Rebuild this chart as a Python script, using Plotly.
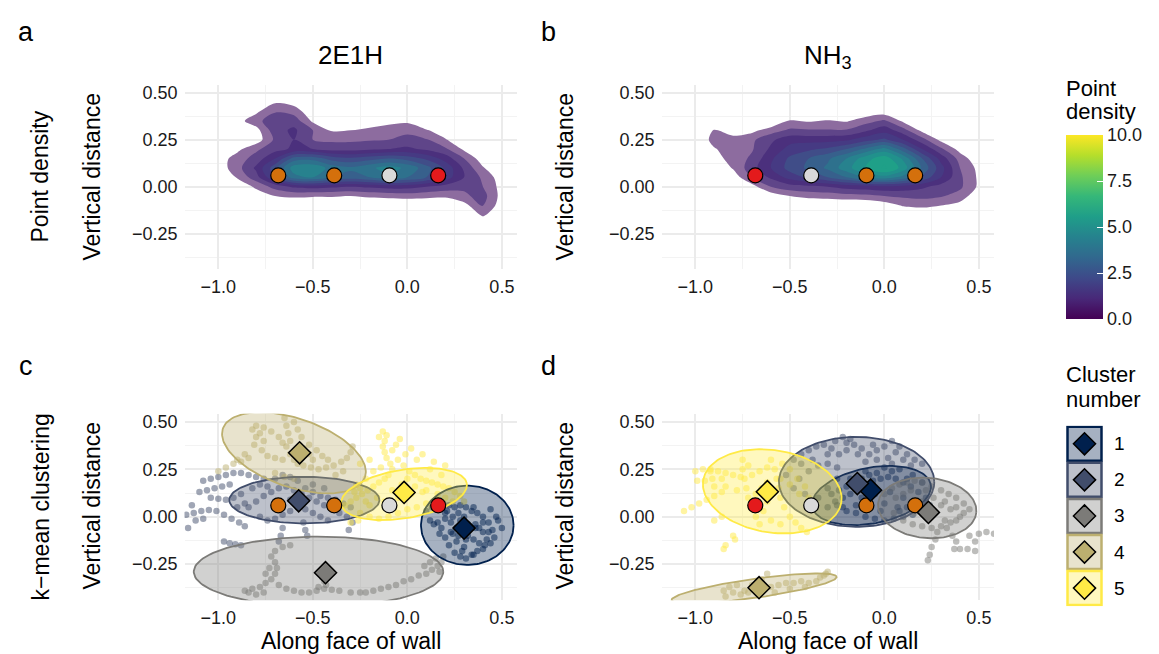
import numpy as np
import plotly.graph_objects as go

# ---------------- data ----------------
grid_x = [-1.0, -0.9, -0.8, -0.7, -0.6, -0.5, -0.4, -0.3, -0.2, -0.1, 0.0, 0.1, 0.2, 0.3, 0.4, 0.5]
grid_y = [0.45, 0.40, 0.35, 0.30, 0.25, 0.20, 0.15, 0.10, 0.05, 0.00, -0.05, -0.10, -0.15, -0.20, -0.25]

density_2e1h = [
    [0, 0, 0, 0.45, 0.3, 0, 0, 0, 0, 0, 0, 0, 0, 0, 0, 0],
    [0, 0, 0.4, 0.95, 0.8, 0.1, 0, 0, 0, 0, 0, 0, 0, 0, 0, 0],
    [0, 0.3, 0.8, 1.4, 1.3, 0.4, 0, 0, 0, 0.3, 0.4, 0, 0, 0, 0, 0],
    [0, 0, 0.3, 1.3, 1.6, 1.0, 0.45, 0.5, 0.7, 0.8, 0.85, 0.55, 0.2, 0, 0, 0],
    [0, 0, 0.2, 1.1, 1.5, 1.0, 0.9, 0.9, 0.95, 1.0, 1.2, 1.05, 0.55, 0.1, 0, 0],
    [0, 0.35, 0.9, 1.3, 1.6, 1.5, 1.3, 1.3, 1.4, 1.5, 1.6, 1.4, 1.1, 0.4, 0.05, 0],
    [0.2, 0.75, 1.2, 2.0, 3.2, 3.3, 2.8, 2.6, 2.8, 3.0, 2.8, 2.4, 1.8, 1.0, 0.2, 0],
    [0.2, 0.8, 1.6, 2.8, 4.3, 4.4, 3.8, 3.6, 3.9, 4.2, 3.9, 3.2, 2.4, 1.4, 0.55, 0],
    [0, 0.55, 1.3, 2.5, 3.8, 4.0, 3.5, 3.3, 3.5, 3.8, 3.5, 3.0, 2.3, 1.5, 0.9, 0.2],
    [0, 0.1, 0.6, 1.2, 1.6, 1.7, 1.6, 1.5, 1.6, 1.7, 1.7, 1.5, 1.3, 1.1, 1.0, 0.3],
    [0, 0, 0.2, 0.5, 0.6, 0.55, 0.55, 0.5, 0.6, 0.65, 0.7, 0.65, 0.6, 0.9, 1.2, 0.3],
    [0, 0, 0, 0, 0, 0, 0, 0, 0, 0, 0, 0, 0, 0.3, 1.05, 0.2],
    [0, 0, 0, 0, 0, 0, 0, 0, 0, 0, 0, 0, 0, 0, 0.6, 0],
    [0, 0, 0, 0, 0, 0, 0, 0, 0, 0, 0, 0, 0, 0, 0, 0],
    [0, 0, 0, 0, 0, 0, 0, 0, 0, 0, 0, 0, 0, 0, 0, 0],
]

density_nh3 = [
    [0, 0, 0, 0, 0, 0, 0, 0, 0, 0, 0, 0, 0, 0, 0, 0],
    [0, 0, 0, 0, 0, 0, 0, 0, 0, 0.1, 0.2, 0, 0, 0, 0, 0],
    [0, 0, 0, 0, 0, 0.55, 0.45, 0.55, 0.45, 0.8, 1.1, 0.4, 0, 0, 0, 0],
    [0, 0.55, 0.3, 0.35, 0.75, 1.1, 1.05, 1.05, 1.05, 1.4, 1.8, 1.2, 0.35, 0, 0, 0],
    [0, 0.7, 0.65, 0.9, 1.4, 1.8, 1.8, 1.8, 1.9, 2.3, 2.6, 2.0, 1.2, 0.35, 0, 0],
    [0, 0.45, 0.8, 0.95, 1.6, 2.2, 2.4, 2.6, 3.0, 3.6, 4.2, 3.2, 2.0, 1.1, 0.3, 0],
    [0, 0.3, 0.7, 1.1, 1.9, 2.6, 3.0, 3.4, 4.0, 4.8, 5.3, 4.4, 3.0, 1.8, 0.8, 0.1],
    [0, 0, 0.55, 1.3, 2.0, 2.7, 3.1, 3.6, 4.3, 5.0, 5.6, 4.8, 3.4, 2.2, 1.0, 0.35],
    [0, 0, 0.2, 1.0, 1.6, 2.2, 2.6, 3.0, 3.5, 4.0, 4.3, 3.8, 2.9, 2.0, 1.1, 0.4],
    [0, 0, 0, 0.3, 1.0, 1.3, 1.4, 1.5, 1.7, 1.8, 1.9, 1.8, 1.6, 1.3, 1.1, 0.4],
    [0, 0, 0, 0, 0.2, 0.5, 0.65, 0.7, 0.8, 0.85, 1.0, 1.1, 1.15, 1.05, 0.8, 0.1],
    [0, 0, 0, 0, 0, 0, 0, 0, 0, 0, 0.2, 0.55, 0.65, 0.5, 0.3, 0],
    [0, 0, 0, 0, 0, 0, 0, 0, 0, 0, 0, 0, 0, 0, 0, 0],
    [0, 0, 0, 0, 0, 0, 0, 0, 0, 0, 0, 0, 0, 0, 0, 0],
    [0, 0, 0, 0, 0, 0, 0, 0, 0, 0, 0, 0, 0, 0, 0, 0],
]

# reference sites (circles)
site_x = [-0.683, -0.387, -0.095, 0.163]
site_y = [0.06, 0.06, 0.06, 0.06]
site_col_2e1h = ["#D4700C", "#D4700C", "#D9D9D9", "#E41A1C"]
site_col_nh3 = ["#E41A1C", "#D9D9D9", "#D4700C", "#D4700C"]

# clusters
cluster_ids = ["1", "2", "3", "4", "5"]
cluster_colors = ["#00204D", "#414D6B", "#7C7B78", "#BCAF6F", "#FFEA46"]

# panel c (2E1H) trajectory points per cluster
c1_x = [0.10, 0.13, 0.16, 0.19, 0.22, 0.25, 0.28, 0.31, 0.34, 0.37, 0.40, 0.43, 0.45, 0.46, 0.44, 0.41, 0.38, 0.35, 0.32, 0.29,
        0.26, 0.23, 0.20, 0.18, 0.20, 0.22, 0.25, 0.28, 0.31, 0.34, 0.37, 0.40, 0.36, 0.30, 0.26, 0.48, 0.50, 0.14, 0.17, 0.30,
        0.24, 0.38, 0.33, 0.27, 0.21, 0.42, 0.35,
        0.12, 0.16, 0.20, 0.24, 0.28, 0.32, 0.36, 0.40, 0.43, 0.40, 0.35, 0.29, 0.23, 0.27, 0.31, 0.44, 0.47]
c1_y = [0.03, 0.05, 0.06, 0.07, 0.06, 0.05, 0.06, 0.05, 0.03, 0.02, 0.00, -0.03, -0.07, -0.11, -0.14, -0.15, -0.14, -0.12, -0.10, -0.08,
        -0.06, -0.03, -0.01, -0.06, -0.11, -0.15, -0.19, -0.21, -0.22, -0.20, -0.18, -0.08, -0.04, 0.00, -0.13, -0.02, -0.06, -0.04, -0.09, -0.16,
        -0.09, -0.06, -0.05, 0.02, 0.03, -0.12, 0.05,
        -0.02, -0.03, 0.02, 0.00, -0.02, -0.04, -0.06, -0.03, -0.08, -0.17, -0.20, -0.18, -0.08, -0.10, -0.12, 0.04, 0.00]
c2_x = [-1.08, -1.04, -1.00, -0.96, -0.92, -0.88, -0.84, -0.80, -0.76, -1.17, -1.13, -1.09, -1.05, -1.01, -0.97, -0.93, -0.89, -0.86,
        -1.16, -1.04, -1.00, -0.96, -0.92, -0.88, -0.97, -0.94, -0.91, -0.88, -0.84, -0.80, -0.76, -0.72, -0.68, -0.64, -0.60, -0.56,
        -0.52, -0.48, -0.44, -0.40, -0.36, -0.32, -0.29, -0.31, -0.78, -0.74, -0.70, -0.66, -0.62, -0.58, -0.54, -0.50, -0.46, -0.42,
        -0.66, -0.67, -0.68, -0.55, -0.54, -0.53, -0.70, -0.66, -0.62, -0.58, -0.50, -0.44,
        -1.10, -1.06, -1.02, -0.98, -0.94, -0.90, -0.86, -0.82, -0.78, -0.74, -0.70, -0.66, -0.62, -0.58, -0.54, -0.50, -0.46, -0.42,
        -0.38, -0.34, -0.30, -1.12, -1.08, -1.14]
c2_y = [0.19, 0.20, 0.21, 0.22, 0.23, 0.23, 0.22, 0.21, 0.20, 0.01, 0.02, 0.03, 0.035, 0.03, 0.01, -0.01, -0.03, -0.05,
        -0.06, 0.10, 0.095, 0.09, 0.10, 0.12, -0.13, -0.14, -0.145, -0.15, 0.05, 0.08, 0.11, 0.13, 0.15, 0.16, 0.14, 0.12,
        0.10, 0.08, 0.06, 0.04, 0.02, 0.00, -0.03, -0.07, 0.00, -0.02, -0.01, 0.01, 0.03, 0.05, 0.04, 0.02, 0.00, -0.02,
        -0.06, -0.10, -0.13, -0.03, -0.07, -0.10, 0.20, 0.22, 0.21, 0.19, 0.17, 0.15,
        0.13, 0.14, 0.15, 0.16, 0.17, 0.05, 0.07, 0.15, 0.17, 0.16, 0.08, 0.06, 0.09, 0.11, 0.15, 0.13, 0.11, 0.10,
        0.09, 0.07, 0.05, -0.02, -0.01, 0.06]
c3_x = [-0.86, -0.82, -0.78, -0.75, -0.72, -0.70, -0.69, -0.70, -0.72, -0.70, -0.66, -0.62, -0.68, -0.64, -0.60, -0.56, -0.52, -0.48,
        -0.44, -0.43, -0.18, -0.14, -0.10, -0.06, -0.02, 0.02, 0.06, 0.10, 0.13, 0.16, 0.18, 0.19, 0.17, -0.44, -0.45, -0.47,
        -0.84, -0.80, -0.76, -0.40, -0.36, -0.30, -0.25, -0.22, 0.15, 0.12, 0.09, -0.73, -0.75]
c3_y = [-0.39, -0.38, -0.37, -0.35, -0.33, -0.30, -0.27, -0.24, -0.21, -0.18, -0.16, -0.15, -0.36, -0.38, -0.39, -0.40, -0.40, -0.39,
        -0.38, -0.36, -0.39, -0.38, -0.37, -0.36, -0.34, -0.33, -0.31, -0.30, -0.28, -0.26, -0.24, -0.21, -0.29, -0.34, -0.32, -0.37,
        -0.40, -0.41, -0.40, -0.385, -0.39, -0.40, -0.40, -0.40, -0.22, -0.24, -0.26, -0.27, -0.30]
c4_x = [-1.00, -0.96, -0.92, -0.88, -0.84, -0.81, -0.80, -0.78, -0.76, -0.77, -0.74, -0.70, -0.66, -0.65, -0.64, -0.63, -0.62, -0.64,
        -0.62, -0.60, -0.58, -0.55, -0.51, -0.47, -0.43, -0.39, -0.35, -0.32, -0.30, -0.29, -0.60, -0.58, -0.56, -0.52, -0.48, -0.45,
        -0.42, -0.70, -0.65, -0.60,
        -0.82, -0.80, -0.76, -0.72, -0.68, -0.66, -0.55, -0.52, -0.50, -0.38, -0.34, -0.90, -0.86]
c4_y = [0.24, 0.26, 0.28, 0.29, 0.31, 0.38, 0.42, 0.44, 0.40, 0.35, 0.32, 0.31, 0.30, 0.52, 0.48, 0.44, 0.40, 0.37,
        0.33, 0.30, 0.28, 0.27, 0.26, 0.25, 0.26, 0.27, 0.29, 0.31, 0.34, 0.37, 0.50, 0.46, 0.42, 0.38, 0.35, 0.32,
        0.30, 0.23, 0.21, 0.20,
        0.46, 0.48, 0.47, 0.45, 0.42, 0.39, 0.36, 0.33, 0.30, 0.22, 0.24, 0.30, 0.33]
c5_x = [-0.33, -0.30, -0.27, -0.24, -0.21, -0.18, -0.15, -0.12, -0.10, -0.08, -0.09, -0.11, -0.12, -0.13, -0.12, -0.11, -0.13, -0.15,
        -0.05, -0.02, 0.01, 0.04, 0.07, 0.10, 0.13, 0.16, 0.19, 0.22, 0.25, 0.28, 0.30, -0.25, -0.20, -0.15, -0.10, -0.05,
        0.00, 0.05, 0.10, 0.15, -0.20, -0.12, -0.05, 0.02, 0.08, -0.03, 0.00, -0.18, -0.22, -0.27, 0.12, 0.18, -0.26, -0.30,
        0.05, -0.01,
        -0.28, -0.25, -0.22, -0.16, -0.08, 0.04, 0.10, 0.16, 0.20, 0.24, -0.06, -0.08, -0.04, 0.02, 0.08, 0.14, 0.20, -0.20,
        -0.25, -0.14]
c5_y = [0.06, 0.08, 0.10, 0.12, 0.14, 0.16, 0.18, 0.20, 0.22, 0.25, 0.28, 0.31, 0.34, 0.37, 0.40, 0.43, 0.45, 0.42,
        0.30, 0.27, 0.24, 0.22, 0.20, 0.19, 0.18, 0.17, 0.16, 0.15, 0.13, 0.11, 0.08, 0.02, 0.00, -0.01, 0.00, 0.02,
        0.04, 0.05, 0.07, 0.09, 0.06, 0.08, 0.10, 0.12, 0.13, 0.17, 0.20, 0.24, 0.20, 0.17, 0.25, 0.22, -0.02, -0.03,
        0.30, 0.33,
        0.13, 0.15, 0.08, 0.10, 0.14, 0.16, 0.14, 0.12, 0.10, 0.08, 0.38, 0.35, 0.41, 0.36, 0.33, 0.29, 0.27, 0.30,
        0.28, 0.26]

# panel d (NH3) trajectory points per cluster
d1_x = [-0.30, -0.26, -0.22, -0.18, -0.14, -0.10, -0.06, -0.02, 0.02, 0.06, 0.10, 0.14, 0.18, 0.22, 0.24, 0.20, 0.15, 0.10, 0.05, 0.00,
        -0.05, -0.10, -0.15, -0.20, -0.25, -0.12, -0.05, 0.03, 0.10, -0.08, 0.00, 0.07, -0.18, -0.10, 0.00, 0.08, 0.15, -0.30, -0.35, 0.20,
        -0.28, -0.24, -0.20, -0.16, -0.12, -0.08, -0.04, 0.04, 0.12, 0.16, 0.12, 0.08, -0.02, -0.15, -0.22, 0.19, -0.25]
d1_y = [0.05, 0.08, 0.10, 0.12, 0.15, 0.17, 0.19, 0.20, 0.21, 0.20, 0.18, 0.16, 0.13, 0.10, 0.06, 0.03, 0.01, 0.00, -0.01, -0.02,
        -0.01, 0.00, 0.02, 0.03, 0.06, 0.10, 0.12, 0.13, 0.10, 0.06, 0.07, 0.05, 0.20, 0.24, 0.26, 0.25, 0.22, 0.15, 0.10, 0.18,
        0.12, 0.14, 0.16, 0.18, 0.20, 0.22, 0.23, 0.24, 0.20, 0.08, 0.05, 0.03, 0.03, 0.06, 0.05, 0.06, 0.20]
d2_x = [-0.48, -0.44, -0.40, -0.36, -0.32, -0.28, -0.24, -0.20, -0.16, -0.12, -0.08, -0.04, 0.00, 0.04, 0.08, 0.12, 0.16, 0.20,
        -0.22, -0.20, -0.45, -0.40, -0.35, -0.30, -0.25, 0.02, -0.10, -0.52, -0.48, -0.42,
        -0.44, -0.38, -0.30, -0.26, -0.18, -0.14, -0.06, 0.06, 0.10, 0.14, 0.04, -0.04]
d2_y = [0.30, 0.33, 0.35, 0.37, 0.38, 0.36, 0.33, 0.35, 0.38, 0.36, 0.33, 0.35, 0.37, 0.40, 0.37, 0.33, 0.30, 0.28,
        0.42, 0.39, 0.20, 0.24, 0.27, 0.28, 0.26, 0.31, 0.29, 0.22, 0.15, 0.12,
        0.28, 0.30, 0.33, 0.40, 0.41, 0.33, 0.38, 0.34, 0.30, 0.27, 0.28, 0.30]
d3_x = [0.00, 0.04, 0.08, 0.12, 0.16, 0.20, 0.25, 0.30, 0.34, 0.38, 0.42, 0.45, 0.40, 0.35, 0.30, 0.25, 0.20, 0.15, 0.10, 0.05,
        0.28, 0.27, 0.25, 0.24, 0.23, 0.36, 0.38, 0.37, 0.40, 0.44, 0.48, 0.45, 0.48, 0.50, 0.54, 0.58, 0.30, 0.20, 0.35,
        0.06, 0.10, 0.14, 0.22, 0.26, 0.32, 0.38, 0.42, 0.38, 0.32, 0.26, 0.22, 0.16, 0.33]
d3_y = [0.12, 0.15, 0.17, 0.18, 0.19, 0.18, 0.16, 0.14, 0.12, 0.10, 0.07, 0.04, 0.00, -0.03, -0.05, -0.06, -0.05, -0.04, -0.02, 0.02,
        -0.08, -0.12, -0.16, -0.20, -0.23, -0.10, -0.13, -0.17, -0.17, -0.17, -0.18, -0.10, -0.13, -0.09, -0.08, -0.09, 0.06, 0.08, 0.04,
        0.10, 0.12, 0.14, 0.14, 0.10, 0.08, 0.05, 0.02, -0.02, -0.02, 0.02, 0.00, 0.02, -0.06]
d4_x = [-0.85, -0.80, -0.76, -0.72, -0.68, -0.64, -0.60, -0.56, -0.52, -0.48, -0.44, -0.40, -0.36, -0.32, -0.30, -0.65, -0.62, -0.82, -0.78,
        -0.84, -0.74, -0.58, -0.50, -0.42, -0.34, -0.31, -0.70]
d4_y = [-0.39, -0.40, -0.41, -0.40, -0.39, -0.38, -0.37, -0.36, -0.35, -0.35, -0.34, -0.35, -0.34, -0.31, -0.29, -0.33, -0.30, -0.37, -0.36,
        -0.42, -0.39, -0.40, -0.38, -0.37, -0.32, -0.30, -0.36]
d5_x = [-1.00, -0.96, -0.92, -0.88, -0.84, -0.80, -0.76, -0.99, -0.95, -0.91, -0.86, -1.06, -1.02, -0.98, -0.94, -0.90, -0.86,
        -0.75, -0.75, -0.74, -0.73, -0.72, -0.70, -0.68, -0.66, -0.60, -0.58, -0.57, -0.56, -0.55, -0.53, -0.50, -0.47, -0.44,
        -0.41, -0.80, -0.79, -0.84, -0.85, -0.65, -0.62, -0.68, -0.55, -0.50, -0.45, -0.40, -0.90, -0.86,
        -0.70, -0.66, -0.62, -0.54, -0.50, -0.46, -0.42, -0.90, -0.84, -0.78, -0.62, -0.64, -0.60, -0.55, -0.72, -0.92]
d5_y = [0.24, 0.25, 0.25, 0.24, 0.23, 0.22, 0.21, 0.19, 0.19, 0.20, 0.20, 0.03, 0.05, 0.07, 0.09, 0.11, 0.13,
        0.30, 0.25, 0.20, 0.15, 0.10, 0.05, 0.00, -0.04, 0.30, 0.25, 0.20, 0.15, 0.10, 0.05, 0.00, -0.03, -0.06,
        -0.08, -0.10, -0.12, -0.15, -0.17, 0.15, 0.18, 0.12, 0.20, 0.17, 0.12, 0.10, -0.02, 0.00,
        0.22, 0.24, 0.26, 0.28, 0.25, 0.20, 0.16, 0.16, 0.16, 0.14, 0.08, 0.03, -0.02, -0.04, 0.27, 0.24]

# cluster ellipses (centre, semi-axes, rotation in degrees)
ell_c_cx = [0.317, -0.545, -0.47, -0.60, -0.018]
ell_c_cy = [-0.045, 0.088, -0.29, 0.337, 0.12]
ell_c_a = [0.245, 0.397, 0.66, 0.397, 0.337]
ell_c_b = [0.209, 0.123, 0.185, 0.181, 0.128]
ell_c_ang = [0, 0, 0, -18.8, 9.4]

ell_d_cx = [-0.068, -0.147, 0.2265, -0.689, -0.593]
ell_d_cy = [0.112, 0.184, 0.0465, -0.378, 0.134]
ell_d_a = [0.319, 0.411, 0.261, 0.441, 0.37]
ell_d_b = [0.147, 0.237, 0.159, 0.05, 0.217]
ell_d_ang = [10.6, 0, -5.1, 8, -9]

# cluster centroids (diamonds)
cent_c_x = [0.30, -0.575, -0.433, -0.57, -0.0175]
cent_c_y = [-0.06, 0.084, -0.295, 0.337, 0.128]
cent_d_x = [-0.073, -0.143, 0.233, -0.663, -0.619]
cent_d_y = [0.14, 0.175, 0.023, -0.374, 0.132]

# density colour bands (levels 0.5 .. 5.5 step 0.5)
band_colors = ["#8d6c9f", "#5f4589", "#4b307d", "#463a83", "#404d88", "#37608c",
               "#2e718d", "#27828e", "#21918c", "#1fa088"]

# ---------------- helpers ----------------
W, H = 1159, 654
FONT = "Liberation Sans, Arial, Helvetica, sans-serif"


def px_x(x):
    return x / W


def px_y(y):
    return 1 - y / H


def rgba(hx, a):
    hx = hx.lstrip("#")
    r, g, b = int(hx[0:2], 16), int(hx[2:4], 16), int(hx[4:6], 16)
    return f"rgba({r},{g},{b},{a})"


def ellipse_xy(cx, cy, a, b, ang):
    t = np.linspace(0, 2 * np.pi, 140)
    th = np.deg2rad(ang)
    ex, ey = a * np.cos(t), b * np.sin(t)
    return cx + ex * np.cos(th) - ey * np.sin(th), cy + ex * np.sin(th) + ey * np.cos(th)


start, step, top = 0.5, 0.5, 5.5
cscale = [[0, "rgba(0,0,0,0)"], [start / top, "rgba(0,0,0,0)"]]
for i, col in enumerate(band_colors):
    lo = (start + i * step) / top
    hi = min((start + (i + 1) * step) / top, 1.0)
    cscale.append([lo, col])
    cscale.append([hi, col])

fig = go.Figure()

# ---------- density panels ----------
for dens, xa, ya, cols in [(density_2e1h, "x", "y", site_col_2e1h), (density_nh3, "x2", "y2", site_col_nh3)]:
    fig.add_trace(go.Contour(
        x=grid_x, y=grid_y[::-1], z=dens[::-1],
        colorscale=cscale, showscale=False,
        contours=dict(coloring="fill", start=start, end=top, size=step, showlines=False),
        line=dict(width=0, smoothing=0.9),
        xaxis=xa, yaxis=ya, hoverinfo="skip"))
    fig.add_trace(go.Scatter(
        x=site_x, y=site_y, mode="markers", xaxis=xa, yaxis=ya,
        marker=dict(size=15, color=cols, line=dict(color="black", width=1.2)),
        showlegend=False, hoverinfo="skip"))

# ---------- clustering panels ----------
panels = [
    ("x3", "y3", [(c1_x, c1_y), (c2_x, c2_y), (c3_x, c3_y), (c4_x, c4_y), (c5_x, c5_y)],
     (ell_c_cx, ell_c_cy, ell_c_a, ell_c_b, ell_c_ang), (cent_c_x, cent_c_y), site_col_2e1h),
    ("x4", "y4", [(d1_x, d1_y), (d2_x, d2_y), (d3_x, d3_y), (d4_x, d4_y), (d5_x, d5_y)],
     (ell_d_cx, ell_d_cy, ell_d_a, ell_d_b, ell_d_ang), (cent_d_x, cent_d_y), site_col_nh3),
]
for xa, ya, pts, ell, cent, cols in panels:
    for k, (px, py) in enumerate(pts):
        fig.add_trace(go.Scatter(
            x=px, y=py, mode="markers", xaxis=xa, yaxis=ya,
            marker=dict(size=6.5, color=cluster_colors[k], opacity=0.5),
            showlegend=False, hoverinfo="skip"))
    for k in range(5):
        ex, ey = ellipse_xy(ell[0][k], ell[1][k], ell[2][k], ell[3][k], ell[4][k])
        fig.add_trace(go.Scatter(
            x=ex, y=ey, mode="lines", fill="toself", xaxis=xa, yaxis=ya,
            fillcolor=rgba(cluster_colors[k], 0.35),
            line=dict(color=cluster_colors[k], width=1.8),
            showlegend=False, hoverinfo="skip"))
    fig.add_trace(go.Scatter(
        x=site_x, y=site_y, mode="markers", xaxis=xa, yaxis=ya,
        marker=dict(size=15, color=cols, line=dict(color="black", width=1.2)),
        showlegend=False, hoverinfo="skip"))
    fig.add_trace(go.Scatter(
        x=cent[0], y=cent[1], mode="markers", xaxis=xa, yaxis=ya,
        marker=dict(symbol="diamond", size=17, color=cluster_colors, line=dict(color="black", width=1.5)),
        showlegend=False, hoverinfo="skip"))

# ---------- cluster legend ----------
leg_y = [1, 2, 3, 4, 5]
fig.add_trace(go.Scatter(
    x=[0.5] * 5, y=leg_y, mode="markers", xaxis="x5", yaxis="y5",
    marker=dict(symbol="square", size=34, color=[rgba(c, 0.35) for c in cluster_colors],
                line=dict(color=cluster_colors, width=2.5)),
    showlegend=False, hoverinfo="skip"))
fig.add_trace(go.Scatter(
    x=[0.5] * 5, y=leg_y, mode="markers", xaxis="x5", yaxis="y5",
    marker=dict(symbol="diamond", size=17, color=cluster_colors, line=dict(color="black", width=1.5)),
    showlegend=False, hoverinfo="skip"))

# ---------- colour bar ----------
fig.add_trace(go.Scatter(
    x=[None], y=[None], mode="markers", xaxis="x5", yaxis="y5",
    marker=dict(color=[0], colorscale="Viridis", cmin=0, cmax=10, showscale=True,
                colorbar=dict(
                    x=px_x(1058), xanchor="left", y=px_y(310), yanchor="bottom",
                    len=184, lenmode="pixels", thickness=37, thicknessmode="pixels",
                    outlinewidth=0, xpad=0, ypad=0,
                    tickvals=[0, 2.5, 5, 7.5, 10], ticktext=["0.0", "2.5", "5.0", "7.5", "10.0"],
                    ticks="inside", ticklen=6, tickcolor="white",
                    tickfont=dict(size=18, color="#1a1a1a", family=FONT))),
    showlegend=False, hoverinfo="skip"))

# ---------------- layout ----------------
xl = [px_x(176.5), px_x(509)]
xr = [px_x(653.5), px_x(986)]
yt = [px_y(260), px_y(75)]
yb = [px_y(592), px_y(405)]

xrange = [-1.179, 0.58]
yrange = [-0.44, 0.543]
grid_major = "#EBEBEB"
grid_minor = "#F3F3F3"
tickfont = dict(size=18, color="#1a1a1a", family=FONT)


def xax(domain, anchor):
    return dict(domain=domain, anchor=anchor, range=xrange, tickvals=[-1.0, -0.5, 0.0, 0.5],
                ticktext=["\u22121.0", "\u22120.5", "0.0", "0.5"], showgrid=True, gridcolor=grid_major,
                gridwidth=1.6, zeroline=False, showline=False, ticks="", tickfont=tickfont,
                ticklabelstandoff=5,
                minor=dict(tickvals=[-0.75, -0.25, 0.25], showgrid=True, gridcolor=grid_minor, gridwidth=0.9),
                fixedrange=True)


def yax(domain, anchor):
    return dict(domain=domain, anchor=anchor, range=yrange, tickvals=[-0.25, 0.0, 0.25, 0.5],
                ticktext=["\u22120.25", "0.00", "0.25", "0.50"], showgrid=True, gridcolor=grid_major,
                gridwidth=1.6, zeroline=False, showline=False, ticks="", tickfont=tickfont,
                ticklabelstandoff=6,
                minor=dict(tickvals=[-0.375, -0.125, 0.125, 0.375], showgrid=True, gridcolor=grid_minor,
                           gridwidth=0.9),
                fixedrange=True)


annotations = []


def ann(text, x, y, size, angle=0, xanchor="center"):
    annotations.append(dict(text=text, x=px_x(x), y=px_y(y), xref="paper", yref="paper",
                            showarrow=False, textangle=angle, xanchor=xanchor, yanchor="middle",
                            font=dict(size=size, color="black", family=FONT)))


ann("a", 17.5, 22, 27)
ann("b", 540, 22, 27)
ann("c", 17.5, 357, 27)
ann("d", 540, 357, 27)
ann("2E1H", 342.75, 45, 26)
ann("NH<sub>3</sub>", 819.75, 47, 26)
ann("Point density", 32, 167, 23, -90)
ann("k\u2212mean clustering", 33, 499, 23, -90)
for (x, y) in [(84, 168), (557, 168), (84, 498), (557, 498)]:
    ann("Vertical distance", x, y, 23, -90)
ann("Along face of wall", 342.75, 633, 23)
ann("Along face of wall", 819.75, 633, 23)
ann("Point", 1056, 79, 22, xanchor="left")
ann("density", 1056, 102, 22, xanchor="left")
ann("Cluster", 1056, 366, 22, xanchor="left")
ann("number", 1056, 391, 22, xanchor="left")
for k, lab in enumerate(cluster_ids):
    annotations.append(dict(text=lab, x=px_x(1111), y=leg_y[k], xref="paper", yref="y5",
                            showarrow=False, xanchor="center", yanchor="middle",
                            font=dict(size=19, color="black", family=FONT)))

fig.update_layout(
    width=W, height=H, autosize=False,
    margin=dict(l=0, r=0, t=0, b=0),
    paper_bgcolor="white", plot_bgcolor="white",
    font=dict(family=FONT, color="black"),
    showlegend=False,
    xaxis=xax(xl, "y"), yaxis=yax(yt, "x"),
    xaxis2=xax(xr, "y2"), yaxis2=yax(yt, "x2"),
    xaxis3=xax(xl, "y3"), yaxis3=yax(yb, "x3"),
    xaxis4=xax(xr, "y4"), yaxis4=yax(yb, "x4"),
    xaxis5=dict(domain=[px_x(1058), px_x(1095)], anchor="y5", range=[0, 1], visible=False, fixedrange=True),
    yaxis5=dict(domain=[px_y(598), px_y(417)], anchor="x5", range=[5.5, 0.5], visible=False, fixedrange=True),
    annotations=annotations,
)

fig.write_html("out.html")
